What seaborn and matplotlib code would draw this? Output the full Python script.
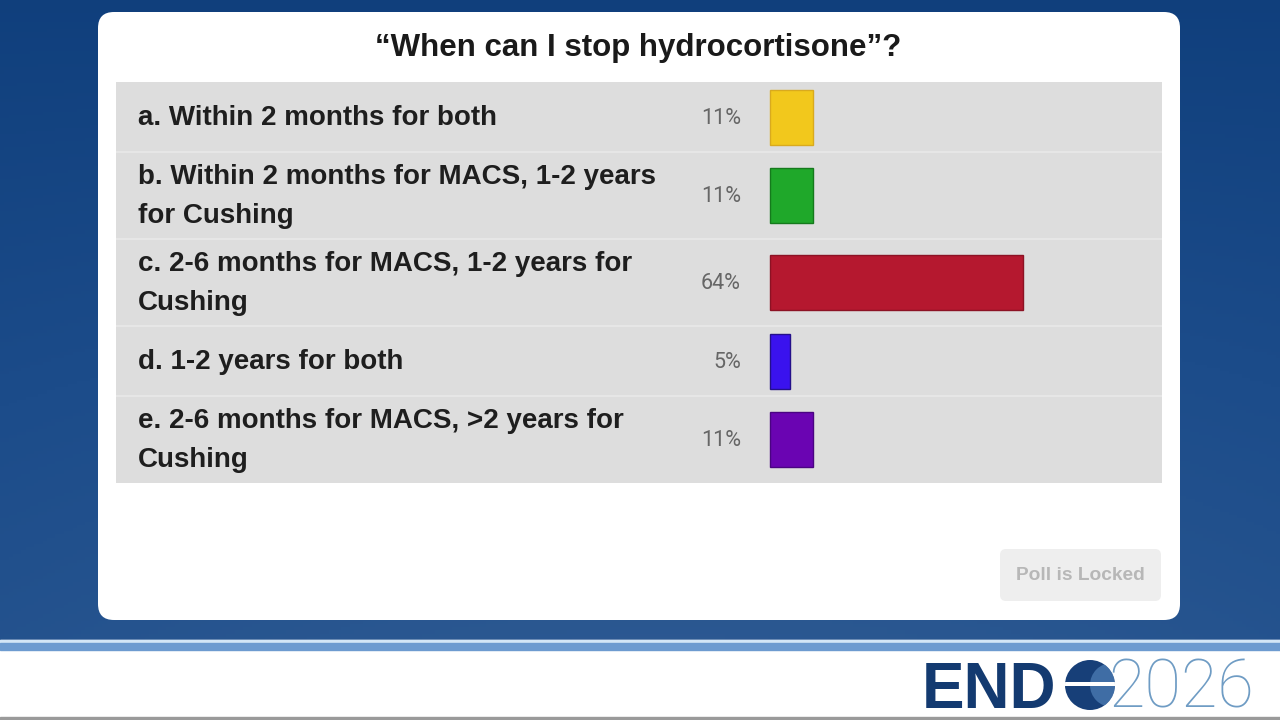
import numpy as np
import pandas as pd
import matplotlib
matplotlib.use('Agg')
import matplotlib.pyplot as plt
from matplotlib.patches import FancyBboxPatch, Circle, Rectangle
import seaborn as sns

### data
title = '\u201cWhen can I stop hydrocortisone\u201d?'
labels = [
    'a. Within 2 months for both',
    'b. Within 2 months for MACS, 1-2 years\nfor Cushing',
    'c. 2-6 months for MACS, 1-2 years for\nCushing',
    'd. 1-2 years for both',
    'e. 2-6 months for MACS, >2 years for\nCushing',
]
pcts = [11, 11, 64, 5, 11]
bar_colors = ['#f2c81c', '#1fa82a', '#b5182f', '#3a12ee', '#6a04b2']
edge_colors = ['#d9aa1e', '#157a1c', '#8c1224', '#24108a', '#4a0482']
button_text = 'Poll is Locked'

sns.set_theme(style='white')
plt.rcParams['font.family'] = ['Liberation Sans', 'DejaVu Sans']

fig = plt.figure(figsize=(12.8, 7.2), dpi=100)

## --> background canvas in pixel units
bg = fig.add_axes([0, 0, 1, 1])
bg.set_xlim(0, 1280)
bg.set_ylim(720, 0)
bg.axis('off')

yy, xx = np.mgrid[0:1:200j, 0:1:300j]
shade = 0.15 + 0.55 * yy + 0.2 * np.sin(xx * 3.0) * yy
cmap = matplotlib.colors.LinearSegmentedColormap.from_list('bgblue', ['#0b3a77', '#1c4c8a', '#2f5b93'])
bg.imshow(shade, cmap=cmap, extent=(0, 1280, 640, 0), aspect='auto', vmin=0, vmax=1, zorder=0)

# bottom strip
bg.add_patch(Rectangle((0, 640), 1280, 80, color='white', zorder=1))
bg.add_patch(Rectangle((0, 640), 1280, 3, color='#d4e6f6', zorder=2))
bg.add_patch(Rectangle((0, 643), 1280, 7, color='#6d9bd0', zorder=2))
bg.add_patch(Rectangle((0, 717), 1280, 3, color='#9a9a9a', zorder=2))

# white card
bg.add_patch(FancyBboxPatch((98, 12), 1082, 608, boxstyle='round,pad=0,rounding_size=16',
                            facecolor='white', edgecolor='none', zorder=3))
bg.text(638, 48, title, ha='center', va='center', fontsize=22.5, fontweight='bold',
        color='#1a1a1a', zorder=4)

# locked button
bg.add_patch(FancyBboxPatch((1000, 549), 161, 52, boxstyle='round,pad=0,rounding_size=6',
                            facecolor='#eeeeee', edgecolor='none', zorder=4))
bg.text(1080.5, 575, button_text, ha='center', va='center', fontsize=13.8, fontweight='bold',
        color='#b7b7b7', zorder=5)

# ENDO2026 logo
bg.text(922, 708, 'END', ha='left', va='baseline', fontsize=46, fontweight='bold',
        color='#133a70', zorder=4)
globe = Circle((1090, 685), 25, facecolor='#173f78', edgecolor='none', zorder=4)
bg.add_patch(globe)
shine = Circle((1112, 685), 22, facecolor='#5a8cc4', edgecolor='none', alpha=0.6, zorder=4.5)
bg.add_patch(shine)
shine.set_clip_path(globe)
band = Rectangle((1060, 682), 60, 4, facecolor='white', edgecolor='none', zorder=5)
bg.add_patch(band)
band.set_clip_path(globe)
bg.text(1108, 708, '2026', ha='left', va='baseline', fontsize=48, fontweight='light',
        family=['Roboto', 'DejaVu Sans'], color='#6f9cc4', zorder=4)

## --> poll rows as a horizontal seaborn bar chart
n_lines = [lab.count('\n') + 1 for lab in labels]
row_h = np.array([53 + 17 * n for n in n_lines], dtype=float)
edges = np.concatenate([[0], np.cumsum(row_h)])
centers = (edges[:-1] + edges[1:]) / 2

df = pd.DataFrame({'label': labels, 'pct': pcts, 'row': centers})

left, right, top = 116, 1162, 82
px_per_pct = 3.95
bar_x0 = 770
ax = fig.add_axes([left / 1280, 1 - (top + edges[-1]) / 720, (right - left) / 1280, edges[-1] / 720])
ax.set_facecolor('#dddddd')
ax.set_zorder(6)

gap = np.min(np.diff(centers))
sns.barplot(data=df, x='pct', y='row', hue='label', palette=dict(zip(labels, bar_colors)),
            orient='h', native_scale=True, dodge=False, width=55 / gap, legend=False,
            saturation=1, linewidth=1, ax=ax)
for patch, ec in zip(ax.patches, edge_colors):
    patch.set_edgecolor(ec)

ax.set_xlim(-(bar_x0 - left) / px_per_pct, (right - bar_x0) / px_per_pct)
ax.set_ylim(edges[-1], 0)
for e in edges[1:-1]:
    ax.axhline(e, color='#e8e8e8', lw=1.2, zorder=0)

for lab, p, c in zip(labels, pcts, centers):
    ax.annotate(lab, xy=(0, c), xycoords=('axes fraction', 'data'), xytext=(22, -1),
                textcoords='offset pixels', ha='left', va='center', fontsize=20,
                fontweight='bold', color='#1e1e1e', linespacing=1.62)
    ax.annotate(f'{p}%', xy=(0, c), xytext=(-29, -1), textcoords='offset pixels',
                ha='right', va='center', fontsize=15.5, color='#666666',
                family=['Roboto', 'DejaVu Sans'])

ax.set_xlabel('')
ax.set_ylabel('')
ax.set_xticks([])
ax.set_yticks([])
for s in ax.spines.values():
    s.set_visible(False)

fig.savefig('out.png', dpi=100)
